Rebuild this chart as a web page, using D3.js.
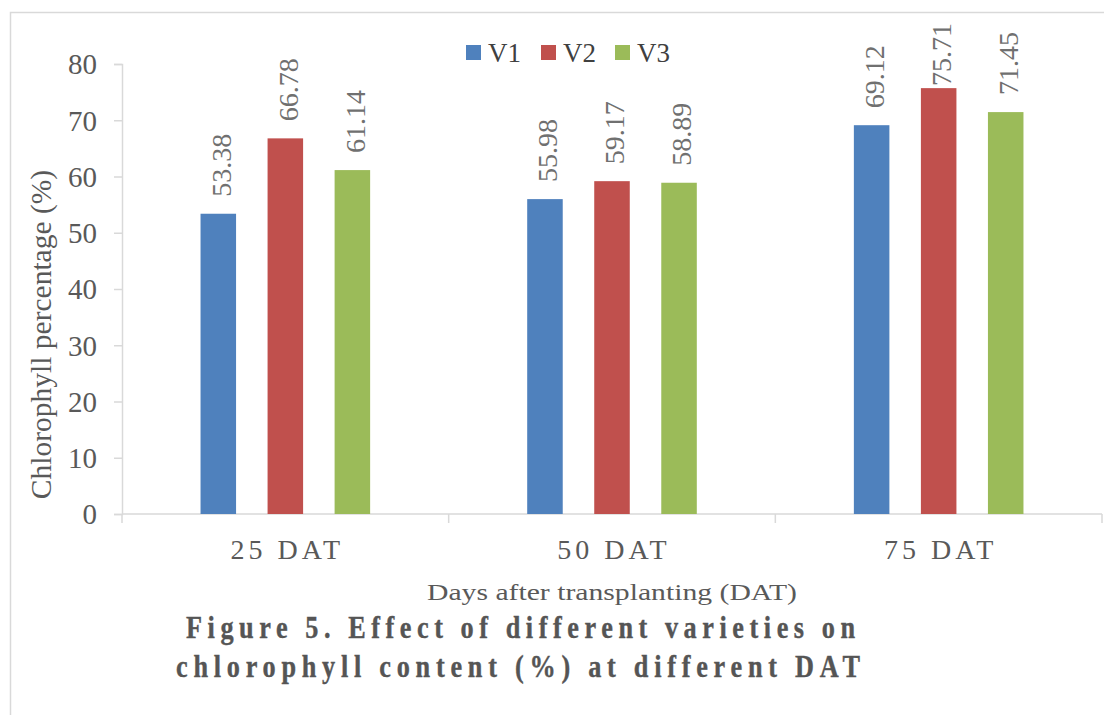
<!DOCTYPE html>
<html>
<head>
<meta charset="utf-8">
<script src="https://cdn.jsdelivr.net/npm/d3@7"></script>
<style>
  html, body { margin: 0; padding: 0; background: #fff; }
  svg { display: block; }
  svg text { font-family: "Times New Roman", Times, "Liberation Serif", Tinos, serif; }
</style>
</head>
<body>
<svg id="chart" width="1104" height="715"></svg>
<script>
// Chlorophyll content (%) per variety at each sampling date
const categories = ["25 DAT", "50 DAT", "75 DAT"];
const seriesNames = ["V1", "V2", "V3"];
const v1 = [53.38, 55.98, 69.12];
const v2 = [66.78, 59.17, 75.71];
const v3 = [61.14, 58.89, 71.45];
const seriesValues = [v1, v2, v3];
const yTicks = [0, 10, 20, 30, 40, 50, 60, 70, 80];
const colors = ["#4F81BD", "#C0504D", "#9BBB59"];

const serif = '"Times New Roman", Times, "Liberation Serif", Tinos, serif';
const svg = d3.select("#chart").attr("font-family", serif);

// outer frame
svg.append("rect")
  .attr("x", 10.5).attr("y", 12.5)
  .attr("width", 1200).attr("height", 800)
  .attr("fill", "none").attr("stroke", "#D9D9D9").attr("stroke-width", 1.5);

const plot = { left: 122, right: 1102, top: 64, bottom: 514 };

const x0 = d3.scaleBand().domain(categories).range([plot.left, plot.right]).padding(0);
const cw = x0.bandwidth();
const x1 = d3.scaleBand().domain(seriesNames)
  .range([cw / 2 - 84.8, cw / 2 + 84.8]).paddingInner(0.47).paddingOuter(0);
const y = d3.scaleLinear().domain([0, 80]).range([plot.bottom, plot.top]);

const axisColor = "#D9D9D9";

// y axis
const yAxis = svg.append("g")
  .attr("transform", `translate(${plot.left},0)`)
  .call(d3.axisLeft(y).tickValues(yTicks).tickSize(8).tickPadding(17).tickFormat(d3.format("d")));
yAxis.attr("font-family", serif);
yAxis.select(".domain").attr("stroke", axisColor).attr("stroke-width", 1.5);
yAxis.selectAll(".tick line").attr("stroke", axisColor).attr("stroke-width", 1.5);
yAxis.selectAll(".tick text")
  .attr("fill", "#595959").attr("font-size", 29).attr("dy", "0.34em");

// x axis with ticks at category boundaries
const xg = svg.append("g").attr("transform", `translate(0,${plot.bottom})`);
xg.append("line")
  .attr("x1", plot.left).attr("x2", plot.right)
  .attr("stroke", axisColor).attr("stroke-width", 1.5);
const bounds = categories.map(c => x0(c)).concat([plot.right]);
xg.selectAll("line.tk").data(bounds).join("line").attr("class", "tk")
  .attr("x1", d => d).attr("x2", d => d).attr("y1", 0).attr("y2", 9)
  .attr("stroke", axisColor).attr("stroke-width", 1.5);
xg.selectAll("text.catlabel").data(categories).join("text").attr("class", "catlabel")
  .attr("x", d => x0(d) + cw / 2 + 2)
  .attr("y", 45)
  .attr("text-anchor", "middle")
  .attr("font-size", 28).attr("letter-spacing", 4)
  .attr("fill", "#595959")
  .text(d => d);

// bars
const groups = svg.selectAll("g.bars").data(categories).join("g").attr("class", "bars")
  .attr("transform", d => `translate(${x0(d)},0)`);

const barData = (c, i) => seriesNames.map((s, j) => ({ s, j, v: seriesValues[j][i] }));

groups.selectAll("rect").data((c, i) => barData(c, i)).join("rect")
  .attr("x", d => x1(d.s))
  .attr("width", x1.bandwidth())
  .attr("y", d => y(d.v))
  .attr("height", d => y(0) - y(d.v))
  .attr("fill", d => colors[d.j]);

// value labels, rotated, kept inside the chart top
groups.selectAll("text.val").data((c, i) => barData(c, i)).join("text").attr("class", "val")
  .attr("font-size", 28).attr("fill", "#707070")
  .text(d => d.v.toFixed(2))
  .each(function (d) {
    const len = this.getComputedTextLength();
    const cx = x1(d.s) + x1.bandwidth() / 2 + 3;
    const yStart = Math.max(y(d.v) - 17, 23 + len);
    d3.select(this).attr("transform", `translate(${cx},${yStart}) rotate(-90)`)
      .attr("dy", "0.33em");
  });

// legend
const legend = svg.append("g").attr("transform", "translate(466,45)");
const legX = [0, 75, 149];
seriesNames.forEach((s, j) => {
  legend.append("rect").attr("x", legX[j]).attr("y", 0)
    .attr("width", 15).attr("height", 15).attr("fill", colors[j]);
  legend.append("text").attr("x", legX[j] + 22).attr("y", 17)
    .attr("font-size", 27).attr("fill", "#404040").text(s);
});

// axis titles
svg.append("text")
  .attr("transform", "translate(51,334.5) rotate(-90)")
  .attr("text-anchor", "middle")
  .attr("font-size", 29.5).attr("fill", "#595959")
  .text("Chlorophyll percentage (%)");

svg.append("text")
  .attr("x", 427).attr("y", 600)
  .attr("font-size", 24).attr("fill", "#595959")
  .attr("textLength", 370).attr("lengthAdjust", "spacingAndGlyphs")
  .text("Days after transplanting (DAT)");

// figure caption: condensed bold lines with extra tracking
const cap = svg.append("g").attr("fill", "#555555").attr("stroke", "#555555")
  .attr("stroke-width", 0.4).attr("font-weight", "bold");
const sx = 0.82;
[
  { t: "Figure 5. Effect of different varieties on", x: 186, y: 638, w: 669 },
  { t: "chlorophyll content (%) at different DAT", x: 176, y: 677, w: 684 }
].forEach(l => {
  cap.append("g").attr("transform", `translate(${l.x},${l.y}) scale(${sx},1)`)
    .append("text")
    .attr("x", 0).attr("y", 0)
    .attr("font-size", 32)
    .attr("textLength", l.w / sx).attr("lengthAdjust", "spacing")
    .text(l.t);
});
</script>
</body>
</html>
